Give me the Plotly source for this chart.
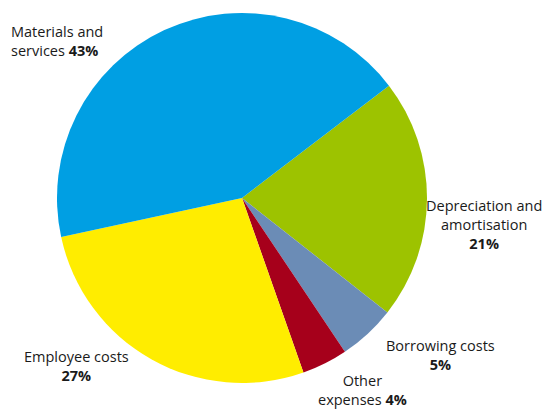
import plotly.graph_objects as go

categories = ["Depreciation and amortisation", "Borrowing costs", "Other expenses",
              "Employee costs", "Materials and services"]
values = [21, 5, 4, 27, 43]
colors = ["#9DC300", "#6B8CB6", "#A6001B", "#FFED00", "#009FE3"]

OFF = 8  # default page body margin
W, H = 553 - OFF, 412 - OFF
cx, cy, r = 242 - OFF, 198 - OFF, 185

fig = go.Figure(go.Pie(
    labels=categories, values=values, sort=False, direction="clockwise",
    rotation=52.6, marker=dict(colors=colors, line=dict(width=0)),
    textinfo="none", hoverinfo="label+percent", showlegend=False,
    domain=dict(x=[(cx - r) / W, (cx + r) / W], y=[(H - cy - r) / H, (H - cy + r) / H]),
))

font = dict(family="Open Sans, Lato, sans-serif", size=14.5, color="#1a1a1a")

def ann(x, y, text, align, xanchor):
    fig.add_annotation(x=(x - OFF) / W, y=1 - (y - OFF) / H, xref="paper", yref="paper",
                       text=text, showarrow=False, align=align, xanchor=xanchor,
                       yanchor="middle", font=font)

ann(9, 41, f"Materials and<br>services <b>{values[4]}%</b>", "left", "left")
ann(484, 224, f"Depreciation and<br>amortisation<br><b>{values[0]}%</b>", "center", "center")
ann(440, 355, f"Borrowing costs<br><b>{values[1]}%</b>", "center", "center")
ann(362, 390, f"Other<br>expenses <b>{values[2]}%</b>", "center", "center")
ann(76, 366, f"Employee costs<br><b>{values[3]}%</b>", "center", "center")

fig.update_layout(width=W, height=H, margin=dict(l=0, r=0, t=0, b=0),
                  paper_bgcolor="white", plot_bgcolor="white")
fig.write_html("out.html")
